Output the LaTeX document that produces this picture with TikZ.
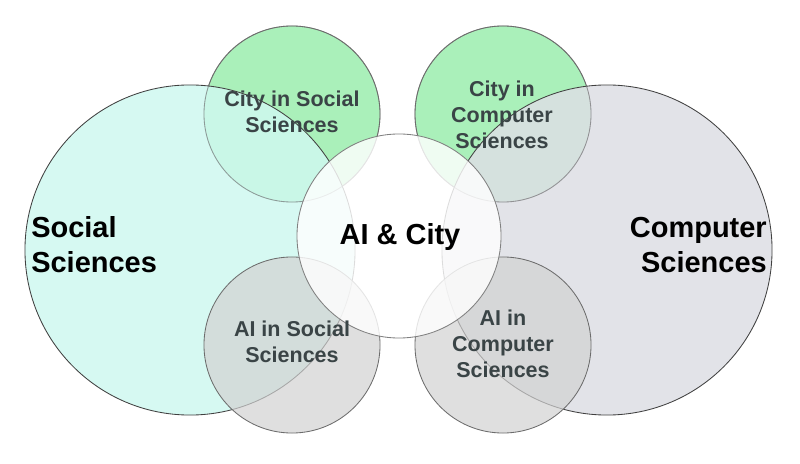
\documentclass[tikz,border=0pt]{standalone}
\usepackage{xcolor}
\usepackage{tikz}
\usepackage{fontspec}
\setmainfont{Liberation Sans}
\definecolor{socialfill}{RGB}{207,249,240}
\definecolor{compfill}{RGB}{221,223,229}
\definecolor{cityfill}{RGB}{170,240,186}
\definecolor{aifill}{RGB}{210,210,210}
\definecolor{labelgrey}{RGB}{58,68,70}

\begin{document}
\begin{tikzpicture}[x=0.025cm, y=-0.025cm,
		bigset/.style={circle, draw=black!75, line width=0.6pt, fill opacity=0.85, inner sep=0pt, minimum size=8.25cm},
		subset/.style={circle, draw=gray!85!black, line width=0.6pt, inner sep=0pt, minimum size=4.4cm},
		bigtext/.style={font=\fontsize{20.6}{24.8}\selectfont\bfseries, text=black, inner sep=0pt},
		subtext/.style={font=\fontsize{15.3}{18.5}\selectfont\bfseries, text=labelgrey, align=center, inner sep=0pt}]
				\path[use as bounding box, fill=white] (0,0) rectangle (800,464);
				% green circles under the big ones, grey ones over them
				\node (cityss) [subset, fill=cityfill] at (292,114) {};
				\node (citycs) [subset, fill=cityfill] at (503,114) {};
				\node (social) [bigset, fill=socialfill] at (190,250) {};
				\node (computer) [bigset, fill=compfill] at (607,250) {};
				\draw [gray!85!black, line width=0.6pt, draw opacity=0.6] (cityss.center) circle [radius=2.2cm] (citycs.center) circle [radius=2.2cm];
				\node (aiss) [subset, fill=aifill, fill opacity=0.7] at (292,345) {};
				\node (aics) [subset, fill=aifill, fill opacity=0.7] at (503,345) {};
				\node (aicity) [circle, draw=gray, line width=0.6pt, fill=white, fill opacity=0.82, inner sep=0pt, minimum size=5.1cm] at (399,236) {};
				
				\node (sslabel) [bigtext, anchor=west, align=left] at (31,245) {Social\\Sciences};
				\node (cslabel) [bigtext, anchor=east, align=right] at (767,245) {Computer\\Sciences};
				\node (aclabel) [bigtext, anchor=base] at (400,245) {AI \& City};
				\node (csslabel) [subtext] at (292,112) {City in Social\\Sciences};
				\node (ccslabel) [subtext] at (502,115) {City in\\Computer\\Sciences};
				\node (asslabel) [subtext] at (292,342) {AI in Social\\Sciences};
				\node (acslabel) [subtext] at (503,344) {AI in\\Computer\\Sciences};
			\end{tikzpicture}
\end{document}
